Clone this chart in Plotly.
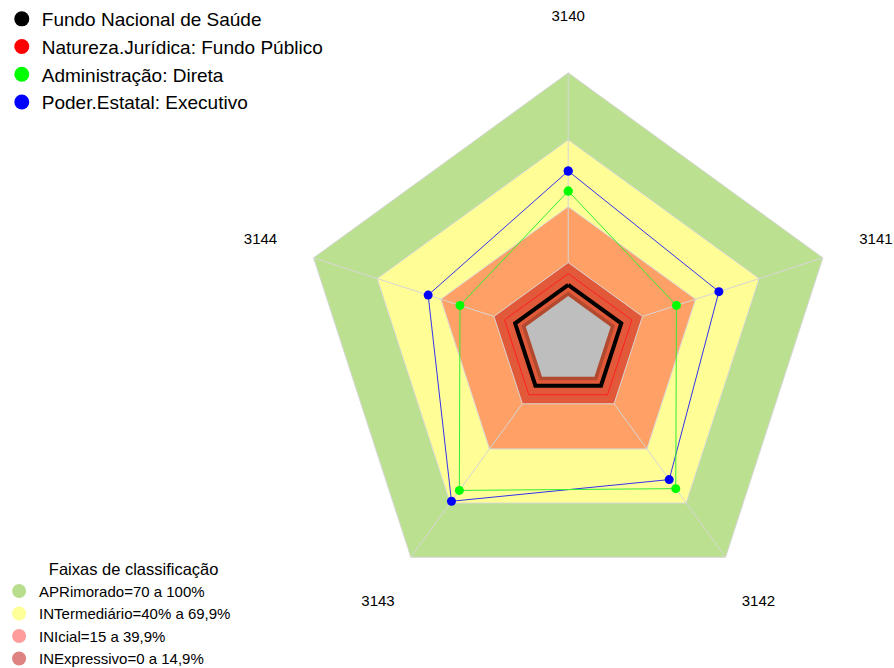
import plotly.graph_objects as go

# ---------------- data ----------------
categories = ["3140", "3141", "3142", "3143", "3144"]

series_names = [
    "Fundo Nacional de Saúde",
    "Natureza.Jurídica: Fundo Público",
    "Administração: Direta",
    "Poder.Estatal: Executivo",
]
fundo_nacional = [5, 5, 5, 5, 5]
natureza_juridica = [10, 10, 10, 10, 10]
administracao = [47, 31, 62, 63, 31]
poder_estatal = [56, 51, 57, 69, 46]

band_names = [
    "APRimorado=70 a 100%",
    "INTermediário=40% a 69,9%",
    "INIcial=15 a 39,9%",
    "INExpressivo=0 a 14,9%",
]
band_title = "Faixas de classificação"
band_upper = [100, 70, 40, 15]
inner_levels = [2, 0]
radial_min = -20
label_level = 125
radial_max = 126

# ---------------- styles ----------------
series_colors = ["#000000", "#FF0000", "#00FF00", "#0000FF"]
series_line_colors = ["#000000", "#FF2020", "#33EE33", "#3333EE"]
series_line_widths = [4, 1, 1, 1]
band_fill = ["#BBE08F", "#FFFD96", "#FFA066", "#E2593A"]
band_legend_colors = ["#B8DE8D", "#FFFF99", "#FF9C9C", "#DE8282"]
inner_fill = ["#B34A2F", "#BEBEBE"]

FONT = "Liberation Sans, Arial, sans-serif"


def closed(vals):
    return list(vals) + [vals[0]]


theta_c = closed(categories)
fig = go.Figure()

# bands (outer first)
for lvl, col in zip(band_upper[:3], band_fill[:3]):
    fig.add_trace(go.Scatterpolar(
        r=closed([lvl] * len(categories)), theta=theta_c, mode="lines",
        fill="toself", fillcolor=col, line=dict(color="#D6D6D6", width=1),
        showlegend=False, hoverinfo="skip"))

# spokes
for c in categories:
    fig.add_trace(go.Scatterpolar(
        r=[band_upper[3], band_upper[0]], theta=[c, c], mode="lines",
        line=dict(color="#D6D6D6", width=1), showlegend=False, hoverinfo="skip"))

# inner ring + core
fig.add_trace(go.Scatterpolar(
    r=closed([band_upper[3]] * len(categories)), theta=theta_c, mode="lines",
    fill="toself", fillcolor=band_fill[3], line=dict(color="#D6D6D6", width=1),
    showlegend=False, hoverinfo="skip"))
for lvl, col in zip(inner_levels, inner_fill):
    fig.add_trace(go.Scatterpolar(
        r=closed([lvl] * len(categories)), theta=theta_c, mode="lines",
        fill="toself", fillcolor=col, line=dict(color=col, width=0),
        showlegend=False, hoverinfo="skip"))

# data series (drawn back to front)
series_vals = [fundo_nacional, natureza_juridica, administracao, poder_estatal]
for i in [3, 2, 1, 0]:
    fig.add_trace(go.Scatterpolar(
        r=closed(series_vals[i]), theta=theta_c, mode="lines+markers",
        line=dict(color=series_line_colors[i], width=series_line_widths[i]),
        marker=dict(color=series_colors[i], size=9),
        showlegend=False, name=series_names[i]))

# axis labels
fig.add_trace(go.Scatterpolar(
    r=[label_level] * len(categories), theta=categories, mode="text",
    text=categories, textposition="middle center",
    textfont=dict(family=FONT, size=15, color="#000000"),
    showlegend=False, hoverinfo="skip", cliponaxis=False))

# legend 1 entries
for name, col in zip(series_names, series_colors):
    fig.add_trace(go.Scatterpolar(
        r=[None], theta=[None], mode="markers", name=name,
        marker=dict(color=col, size=15), legend="legend"))

# legend 2 entries
for name, col in zip(band_names, band_legend_colors):
    fig.add_trace(go.Scatterpolar(
        r=[None], theta=[None], mode="markers", name=name,
        marker=dict(color=col, size=14), legend="legend2"))

W, H = 894, 668
cx, cy = 568.5, 340.6
R_outer = 268.0
R = R_outer * (radial_max - radial_min) / (band_upper[0] - radial_min)

fig.update_layout(
    width=W, height=H,
    margin=dict(l=0, r=0, t=0, b=0, autoexpand=False),
    paper_bgcolor="white", plot_bgcolor="white",
    font=dict(family=FONT, color="#000000"),
    polar=dict(
        domain=dict(x=[max(0, (cx - R) / W), min(1, (cx + R) / W)],
                    y=[max(0, (H - cy - R) / H), min(1, (H - cy + R) / H)]),
        bgcolor="rgba(0,0,0,0)",
        gridshape="linear",
        radialaxis=dict(visible=False, range=[radial_min, radial_max]),
        angularaxis=dict(rotation=90, direction="clockwise", showgrid=False,
                         showticklabels=False, showline=False, ticks=""),
    ),
    legend=dict(x=0.002, y=1.0, xanchor="left", yanchor="top",
                font=dict(family=FONT, size=19, color="#000000"),
                bgcolor="rgba(0,0,0,0)", tracegroupgap=0, itemclick=False),
    legend2=dict(x=-0.001, y=-0.011, xanchor="left", yanchor="bottom",
                 font=dict(family=FONT, size=15, color="#000000"),
                 title=dict(text="\u00a0" * 7 + band_title, side="top center",
                            font=dict(family=FONT, size=16.5, color="#000000")),
                 bgcolor="rgba(0,0,0,0)", tracegroupgap=0, itemclick=False),
)

fig.write_html(
    "out.html",
    config={"displayModeBar": False},
    post_script="document.body.style.margin='0';document.body.style.padding='0';"
                "document.body.style.overflow='hidden';",
)
